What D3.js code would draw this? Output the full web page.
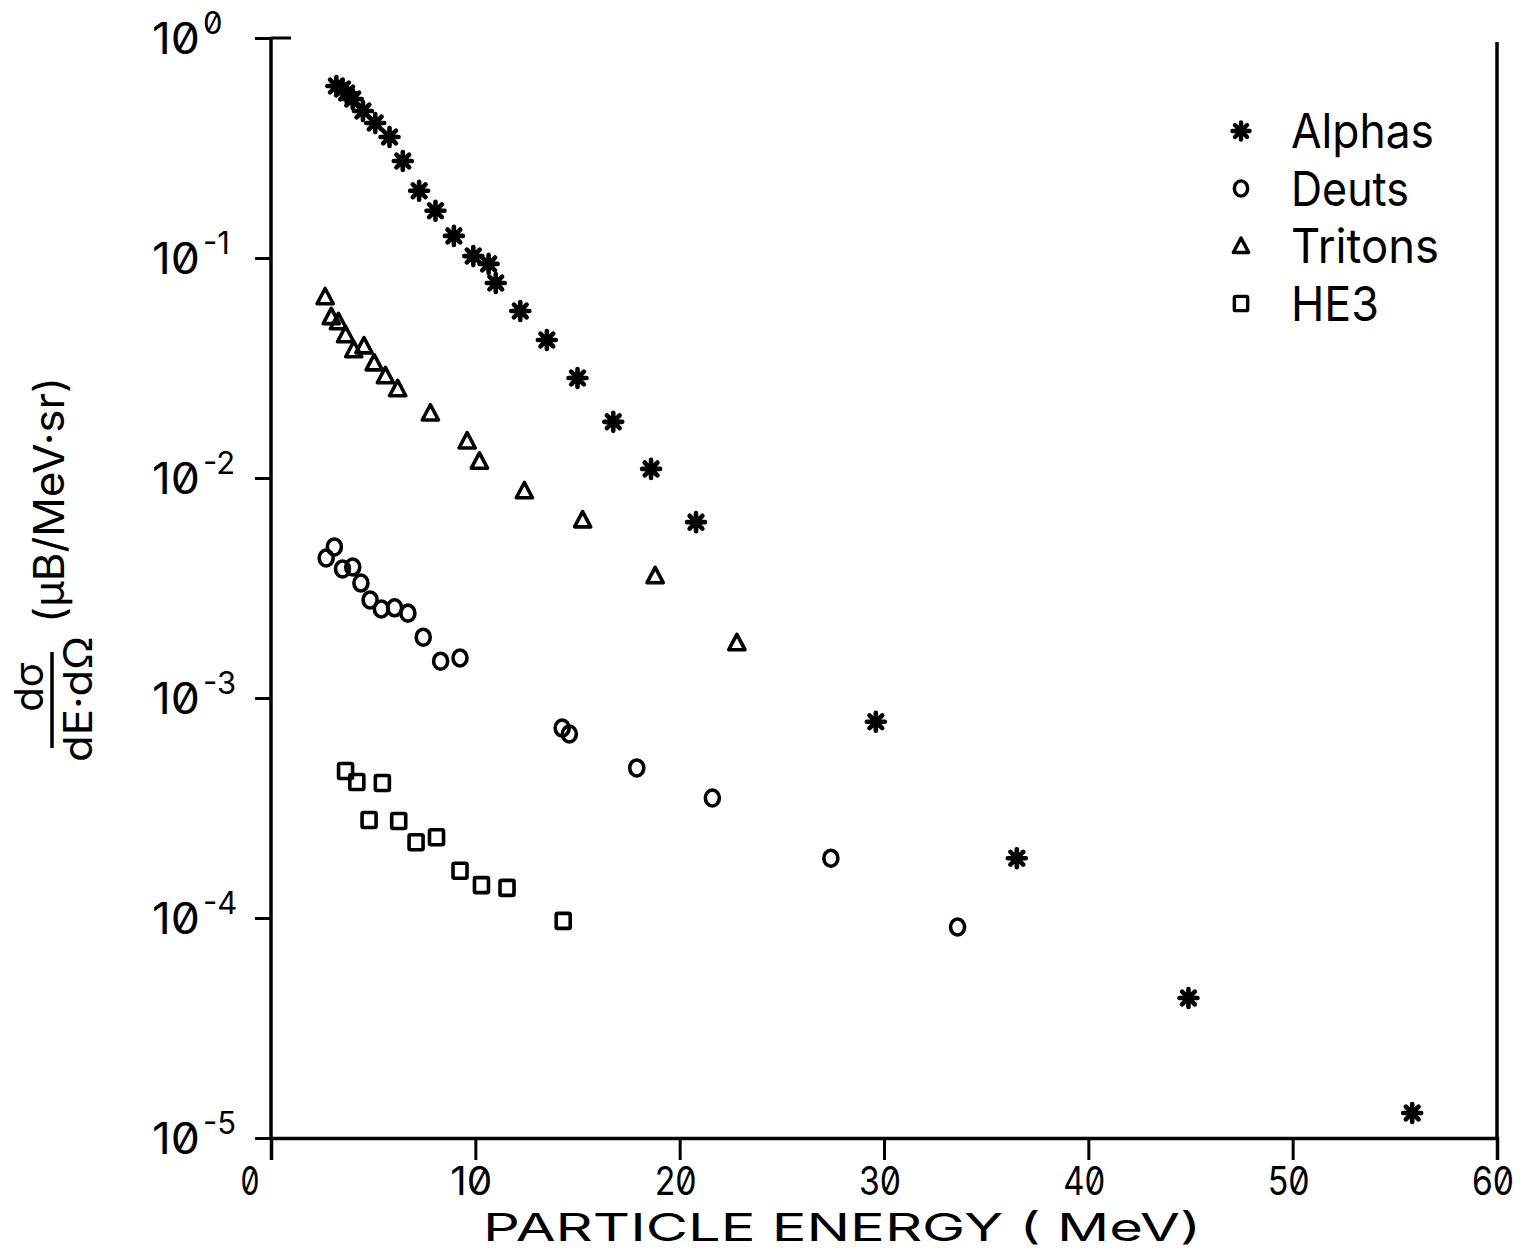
<!DOCTYPE html>
<html>
<head>
<meta charset="utf-8">
<script src="https://cdn.jsdelivr.net/npm/d3@7"></script>
<style>
  html, body { margin: 0; padding: 0; background: #fff; }
  svg { display: block; font-family: Inter, "DejaVu Sans", sans-serif; font-feature-settings: "zero" 1; }
</style>
</head>
<body>
<svg id="chart" width="1532" height="1252"></svg>
<script>
"use strict";

// energies (MeV) and cross sections (ub/MeV sr)
var alphaE = [3.2, 3.5, 3.7, 4.0, 4.5, 5.1, 5.8, 6.45, 7.25, 8.05, 8.95, 9.9, 10.65, 11.0, 12.2, 13.5, 15.0, 16.75, 18.6, 20.8, 29.6, 36.5, 44.9, 55.85];
var alphaY = [0.605, 0.586, 0.562, 0.528, 0.466, 0.411, 0.355, 0.276, 0.202, 0.164, 0.126, 0.102, 0.094, 0.077, 0.0574, 0.0424, 0.0285, 0.018, 0.011, 0.0063, 0.00078, 0.000187, 4.33e-5, 1.30e-5];

var deutE = [2.7, 3.1, 3.5, 4.0, 4.4, 4.85, 5.4, 6.05, 6.7, 7.45, 8.3, 9.25, 14.25, 14.6, 17.9, 21.6, 27.4, 33.6];
var deutY = [0.00433, 0.00486, 0.00386, 0.00394, 0.00333, 0.00279, 0.00254, 0.00257, 0.00243, 0.00189, 0.00147, 0.00152, 0.00073, 0.000686, 0.000481, 0.000351, 0.000187, 9.1e-5];

var tritE = [2.65, 2.95, 3.3, 3.65, 4.05, 4.55, 5.05, 5.6, 6.2, 7.8, 9.6, 10.2, 12.4, 15.25, 18.8, 22.8];
var tritY = [0.0665, 0.054, 0.0512, 0.0447, 0.0382, 0.0398, 0.0333, 0.0291, 0.0254, 0.0197, 0.0147, 0.0119, 0.00873, 0.00644, 0.00359, 0.00178];

var he3E = [3.65, 4.2, 4.8, 5.45, 6.25, 7.1, 8.1, 9.25, 10.3, 11.55, 14.3];
var he3Y = [0.000466, 0.000415, 0.000279, 0.000411, 0.000276, 0.000221, 0.000233, 0.000164, 0.000141, 0.000137, 9.7e-5];

var xTicks = [0, 10, 20, 30, 40, 50, 60];
var yTicks = [1, 1e-1, 1e-2, 1e-3, 1e-4, 1e-5];
var yTickExp = ["0", "-1", "-2", "-3", "-4", "-5"];

var legendNames = ["Alphas", "Deuts", "Tritons", "HE3"];
var legendShapes = ["star", "circle", "triangle", "square"];

var INK = "#000";
var AXIS_W = 3.5;
var MARK_W = 3.6;

var svg = d3.select("#chart");

var x = d3.scaleLinear().domain([0, 60]).range([271, 1497]);
var y = d3.scaleLog().domain([1e-5, 1]).range([1138, 38]);

// axes
var axisG = svg.append("g").attr("class", "axes");

axisG.append("g")
  .attr("transform", "translate(0,1138)")
  .call(d3.axisBottom(x).tickValues(xTicks).tickSize(22).tickFormat(""))
  .call(function (g) {
    g.select(".domain").attr("stroke", INK).attr("stroke-width", AXIS_W);
    g.selectAll(".tick line").attr("stroke", INK).attr("stroke-width", 3);
  });

axisG.append("g")
  .attr("transform", "translate(271,0)")
  .call(d3.axisLeft(y).tickValues(yTicks).tickSize(16).tickFormat(""))
  .call(function (g) {
    g.select(".domain").attr("d", "M0," + y(1) + "V" + y(1e-5)).attr("stroke", INK).attr("stroke-width", AXIS_W);
    g.selectAll(".tick line").attr("stroke", INK).attr("stroke-width", 3);
  });

// top stub at 10^0 and right frame line
axisG.append("line")
  .attr("x1", x(0)).attr("x2", x(0) + 20)
  .attr("y1", y(1)).attr("y2", y(1))
  .attr("stroke", INK).attr("stroke-width", 3);

axisG.append("line")
  .attr("x1", x(60)).attr("x2", x(60))
  .attr("y1", y(1) + 4).attr("y2", y(1e-5))
  .attr("stroke", INK).attr("stroke-width", AXIS_W);

// x tick labels
svg.append("g").selectAll("text")
  .data(xTicks)
  .enter()
  .append("text")
  .attr("x", function (d) { return x(d) - (d === 0 ? 21 : 4); })
  .attr("y", 1195)
  .attr("text-anchor", "middle")
  .attr("font-size", 39)
  .attr("textLength", function (d) { return d === 0 ? 19 : 42; })
  .attr("lengthAdjust", "spacingAndGlyphs")
  .text(function (d) { return String(d); });

// y tick labels with superscripts
var yLab = svg.append("g").selectAll("text")
  .data(yTicks)
  .enter()
  .append("text")
  .attr("y", function (d) { return y(d) + 16; })
  .attr("font-size", 44);

yLab.append("tspan")
  .attr("x", 152)
  .attr("textLength", 48)
  .attr("lengthAdjust", "spacingAndGlyphs")
  .text("10");

yLab.append("tspan")
  .attr("x", 203)
  .attr("dy", -20)
  .attr("font-size", 31)
  .text(function (d, i) { return yTickExp[i]; });

// axis titles
svg.append("text")
  .attr("x", 842)
  .attr("y", 1241)
  .attr("text-anchor", "middle")
  .attr("font-size", 38)
  .attr("textLength", 718)
  .attr("lengthAdjust", "spacingAndGlyphs")
  .text("PARTICLE ENERGY ( MeV)");

var yTitle = svg.append("g").attr("transform", "translate(52,700) rotate(-90)");
yTitle.append("line")
  .attr("x1", -48).attr("x2", 48).attr("y1", 0).attr("y2", 0)
  .attr("stroke", INK).attr("stroke-width", 3.5);
yTitle.append("text")
  .attr("x", 13).attr("y", -9)
  .attr("text-anchor", "middle").attr("font-size", 40)
  .text("dσ");
yTitle.append("text")
  .attr("x", 1).attr("y", 40)
  .attr("text-anchor", "middle").attr("font-size", 40)
  .attr("textLength", 126).attr("lengthAdjust", "spacingAndGlyphs")
  .text("dE·dΩ");
yTitle.append("text")
  .attr("x", 200).attr("y", 12)
  .attr("text-anchor", "middle").attr("font-size", 42)
  .attr("textLength", 246).attr("lengthAdjust", "spacingAndGlyphs")
  .text("(μB/MeV·sr)");

// marker drawing
function drawMarker(sel, shape, s) {
  if (shape === "star") {
    var r = 9 * s;
    var p = "";
    [0, 45, 90, 135].forEach(function (a) {
      var rad = a * Math.PI / 180;
      var dx = r * Math.sin(rad), dy = r * Math.cos(rad);
      p += "M" + (-dx) + "," + (-dy) + "L" + dx + "," + dy;
    });
    sel.append("path").attr("d", p).attr("stroke", INK).attr("stroke-width", 4.6 * s).attr("stroke-linecap", "round").attr("fill", "none");
    sel.append("circle").attr("r", 4.5 * s).attr("fill", INK);
  } else if (shape === "circle") {
    sel.append("ellipse").attr("rx", 7 * s).attr("ry", 8 * s).attr("fill", "none").attr("stroke", INK).attr("stroke-width", MARK_W * s);
  } else if (shape === "triangle") {
    var h = 8.5 * s;
    sel.append("path")
      .attr("d", "M0," + (-h) + "L" + (h * 0.95) + "," + (h * 0.8) + "L" + (-h * 0.95) + "," + (h * 0.8) + "Z")
      .attr("fill", "none").attr("stroke", INK).attr("stroke-width", MARK_W * s).attr("stroke-linejoin", "round");
  } else {
    sel.append("rect")
      .attr("x", -7 * s).attr("y", -7.5 * s).attr("width", 14 * s).attr("height", 15 * s)
      .attr("rx", 1.5).attr("fill", "none").attr("stroke", INK).attr("stroke-width", MARK_W * s);
  }
}

var series = [
  { e: alphaE, v: alphaY, shape: "star" },
  { e: deutE, v: deutY, shape: "circle" },
  { e: tritE, v: tritY, shape: "triangle" },
  { e: he3E, v: he3Y, shape: "square" }
];

var body = svg.append("g").attr("class", "body");
series.forEach(function (s) {
  body.selectAll(null)
    .data(s.e.map(function (e, i) { return [e, s.v[i]]; }))
    .enter()
    .append("g")
    .attr("transform", function (d) { return "translate(" + x(d[0]) + "," + y(d[1]) + ")"; })
    .each(function () { drawMarker(d3.select(this), s.shape, 1); });
});

// legend
var legend = svg.append("g").attr("class", "legend");
var rows = legend.selectAll("g")
  .data(legendNames)
  .enter()
  .append("g")
  .attr("transform", function (d, i) { return "translate(1241," + (131 + i * 57.5) + ")"; });

rows.each(function (d, i) { drawMarker(d3.select(this).append("g"), legendShapes[i], 0.95); });

rows.append("text")
  .attr("x", 50)
  .attr("y", 17)
  .attr("font-size", 48)
  .attr("textLength", function (d) { return { Alphas: 143, Deuts: 118, Tritons: 148, HE3: 88 }[d]; })
  .attr("lengthAdjust", "spacingAndGlyphs")
  .text(function (d) { return d; });
</script>
</body>
</html>
